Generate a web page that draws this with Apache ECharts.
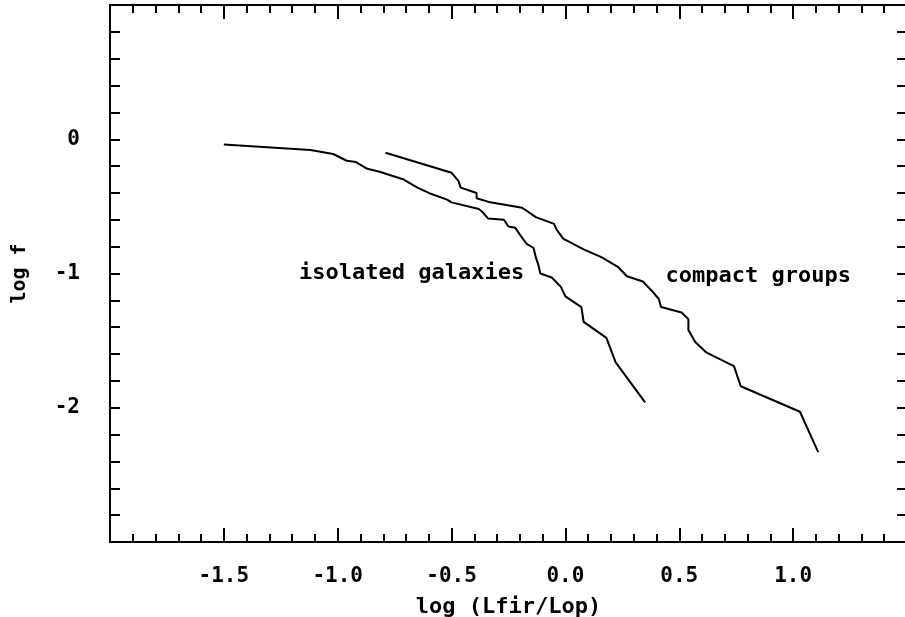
<!DOCTYPE html>
<html>
<head>
<meta charset="utf-8">
<script src="https://cdn.jsdelivr.net/npm/echarts@6/dist/echarts.min.js"></script>
<style>
    html, body { margin: 0; padding: 0; background: #fff; }
    #chart-main { width: 905px; height: 617px; }
</style>
</head>
<body>
<div id="chart-main"></div>
<script>
// 数据：从图上读出来的点 [log(Lfir/Lop), log f]
const isolatedX = [-1.50, -1.12, -1.02, -0.96, -0.92, -0.87, -0.82, -0.71, -0.65, -0.60, -0.52, -0.50,
    -0.38, -0.36, -0.34, -0.27, -0.25, -0.22, -0.20, -0.17, -0.14, -0.13, -0.12, -0.11, -0.06, -0.02,
    0.00, 0.07, 0.08, 0.18, 0.22, 0.35];
const isolatedY = [-0.04, -0.08, -0.11, -0.16, -0.17, -0.22, -0.24, -0.30, -0.36, -0.40, -0.45, -0.47,
    -0.52, -0.55, -0.59, -0.60, -0.65, -0.66, -0.71, -0.78, -0.81, -0.88, -0.93, -1.00, -1.03, -1.10,
    -1.17, -1.25, -1.36, -1.48, -1.66, -1.96];

const compactX = [-0.79, -0.50, -0.47, -0.46, -0.39, -0.39, -0.33, -0.19, -0.13, -0.05, -0.04, -0.01,
    0.08, 0.16, 0.23, 0.27, 0.34, 0.38, 0.41, 0.42, 0.51, 0.54, 0.54, 0.57, 0.62, 0.74, 0.77, 1.03, 1.11];
const compactY = [-0.10, -0.25, -0.31, -0.36, -0.40, -0.44, -0.47, -0.51, -0.58, -0.63, -0.67, -0.74,
    -0.82, -0.88, -0.95, -1.02, -1.06, -1.13, -1.19, -1.25, -1.29, -1.34, -1.42, -1.51, -1.59, -1.69,
    -1.84, -2.03, -2.33];

// 图中文字标注
const annotations = [
    [-1.17, -1.0, 'isolated galaxies'],
    [0.44, -1.02, 'compact groups']
];

const xTickLabels = ['-1.5', '-1.0', '-0.5', '0.0', '0.5', '1.0'];
const yTickLabels = ['0', '-1', '-2'];

const FONT = 'DejaVu Sans Mono';
const zip = (xs, ys) => xs.map((x, i) => [x, ys[i]]);

const chart = echarts.init(document.getElementById('chart-main'));

const textStyle = { color: '#000', fontFamily: FONT, fontSize: 21, fontWeight: 'bold' };
const lineStyle = { color: '#000', width: 2 };

// 四条边框轴都一样，只是位置和刻度长短不同
function frameAxis(extra, tickLen, minorLen) {
    return Object.assign({
        type: 'value',
        axisLine: { show: true, onZero: false, lineStyle: lineStyle },
        axisTick: { inside: true, length: tickLen, lineStyle: lineStyle },
        minorTick: { show: true, splitNumber: 5, length: minorLen, lineStyle: lineStyle },
        splitLine: { show: false },
        axisLabel: { show: false }
    }, extra);
}

chart.setOption({
    animation: false,
    // 右边框在原图里刚好被裁掉，所以宽度比画布多一点
    grid: { left: 110, top: 5, width: 797, height: 537, outerBoundsMode: 'none', containLabel: false },
    xAxis: [
        frameAxis({
            min: -2, max: 1.5, interval: 0.5, position: 'bottom',
            name: 'log (Lfir/Lop)', nameLocation: 'middle', nameGap: 54,
            nameTextStyle: { ...textStyle, fontSize: 22 },
            axisLabel: {
                margin: 24, ...textStyle,
                formatter: v => {
                    const s = v.toFixed(1);
                    return xTickLabels.includes(s) ? s : '';
                }
            }
        }, 14, 8),
        frameAxis({ min: -2, max: 1.5, interval: 0.5, position: 'top' }, 14, 8)
    ],
    yAxis: [
        frameAxis({
            min: -3, max: 1, interval: 1, position: 'left',
            name: 'log f', nameLocation: 'middle', nameGap: 80, nameRotate: 90,
            nameTextStyle: { ...textStyle, fontSize: 20 },
            axisLabel: {
                margin: 30, ...textStyle,
                formatter: v => {
                    const s = String(v);
                    return yTickLabels.includes(s) ? s : '';
                }
            }
        }, 10, 10),
        frameAxis({ min: -3, max: 1, interval: 1, position: 'right' }, 10, 10)
    ],
    series: [
        {
            name: 'isolated galaxies', type: 'line', data: zip(isolatedX, isolatedY),
            showSymbol: false, lineStyle: lineStyle, silent: true
        },
        {
            name: 'compact groups', type: 'line', data: zip(compactX, compactY),
            showSymbol: false, lineStyle: lineStyle, silent: true
        },
        {
            type: 'scatter', data: annotations, symbolSize: 0, silent: true,
            itemStyle: { opacity: 1 },
            label: {
                show: true, position: 'right', distance: 0,
                formatter: p => p.data[2],
                ...textStyle, fontSize: 22
            }
        }
    ]
});
</script>
</body>
</html>
